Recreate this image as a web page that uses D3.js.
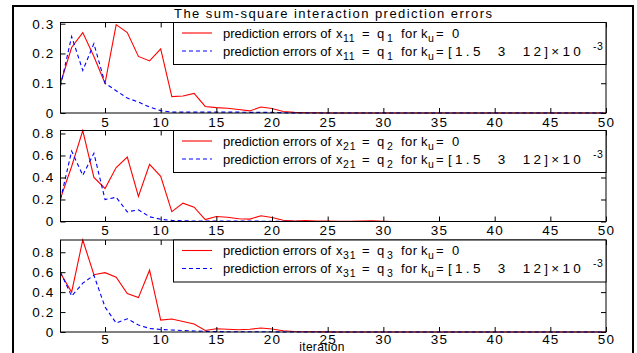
<!DOCTYPE html>
<html><head><meta charset="utf-8">
<script src="https://cdn.jsdelivr.net/npm/d3@7"></script>
<style>
body{margin:0;background:#fff}
svg{display:block}
text{font-family:"Liberation Sans",Arial,Helvetica,sans-serif;fill:#000}
</style>
</head><body>
<svg id="c" width="637" height="353"></svg>
<script>
// ---------- data ----------
const iterations = d3.range(1, 51);
const xTicks = [5, 10, 15, 20, 25, 30, 35, 40, 45, 50];
const yTicksP1 = [0, 0.1, 0.2, 0.3];
const yTicksP23 = [0, 0.2, 0.4, 0.6, 0.8];
const yLimits = [0.304, 0.827, 0.923];

const redP1 = [0.10,0.22,0.27,0.19,0.10,0.297,0.27,0.19,0.175,0.215,0.055,0.057,0.066,0.022,0.018,0.016,0.012,0.007,0.020,0.015,0.005,0.002,0.001,0.001,0,0,0,0,0,0,0,0,0,0,0,0,0,0,0,0,0,0,0,0,0,0,0,0,0,0];
const blueP1 = [0.09,0.257,0.143,0.233,0.10,0.075,0.05,0.037,0.02,0.008,0.003,0.003,0.003,0.003,0.003,0.003,0.003,0.002,0.002,0.002,0.001,0,0,0,0,0,0,0,0,0,0,0,0,0,0,0,0,0,0,0,0,0,0,0,0,0,0,0,0,0];
const redP2 = [0.21,0.50,0.827,0.40,0.30,0.49,0.585,0.227,0.52,0.41,0.09,0.167,0.13,0.018,0.045,0.038,0.025,0.022,0.052,0.037,0.012,0.005,0.008,0.005,0.003,0.002,0.002,0.004,0.006,0.002,0,0,0,0,0,0,0,0,0,0,0,0,0,0,0,0,0,0,0,0];
const blueP2 = [0.20,0.64,0.42,0.62,0.20,0.22,0.088,0.106,0.043,0.02,0.01,0.006,0.005,0.005,0.004,0.004,0.003,0.003,0.003,0.002,0.002,0.001,0,0,0,0,0,0,0,0,0,0,0,0,0,0,0,0,0,0,0,0,0,0,0,0,0,0,0,0];
const redP3 = [0.59,0.40,0.923,0.575,0.595,0.55,0.385,0.345,0.62,0.12,0.13,0.106,0.08,0.015,0.033,0.027,0.023,0.027,0.04,0.03,0.013,0.005,0.003,0.002,0.001,0,0,0,0,0,0,0,0,0,0,0,0,0,0,0,0,0,0,0,0,0,0,0,0,0];
const blueP3 = [0.60,0.36,0.49,0.57,0.25,0.09,0.133,0.07,0.036,0.025,0.02,0.015,0.01,0.006,0.004,0.003,0.003,0.002,0.002,0.002,0.001,0,0,0,0,0,0,0,0,0,0,0,0,0,0,0,0,0,0,0,0,0,0,0,0,0,0,0,0,0];

const xSubs = ["11", "21", "31"];
const qSubs = ["1", "2", "3"];
const legendLead = "prediction errors of";
const gainZero = "0";
const gainVec = "[1.5 3 12]\u00d710";
const gainExp = "-3";
const titleText = "The sum-square interaction prediction errors";
const xLabel = "iteration";

// ---------- layout ----------
const svg = d3.select("#c");
const X0 = 60.5, X1 = 606;
const panels = [
  {top: 22.5, bottom: 113, red: redP1, blue: blueP1, ticks: yTicksP1, ymax: yLimits[0]},
  {top: 130.5, bottom: 221.5, red: redP2, blue: blueP2, ticks: yTicksP23, ymax: yLimits[1]},
  {top: 240, bottom: 332, red: redP3, blue: blueP3, ticks: yTicksP23, ymax: yLimits[2]}
];
const fmt = d3.format(".1~f");

svg.append("rect").attr("x", 13).attr("y", 6).attr("width", 620).attr("height", 360)
  .attr("fill", "none").attr("stroke", "#000").attr("stroke-width", 2);

const x = d3.scaleLinear().domain([1, 50]).range([X0, X1]);

function txt(parent, s, px, py, size, opts = {}) {
  const t = parent.append("text").attr("x", px).attr("y", py).attr("font-size", size).text(s);
  if (opts.ls) t.attr("letter-spacing", opts.ls);
  if (opts.ws) t.attr("word-spacing", opts.ws);
  if (opts.len) t.attr("textLength", opts.len).attr("lengthAdjust", "spacing");
  return t;
}

panels.forEach((p, i) => {
  const y = d3.scaleLinear().domain([0, p.ymax]).range([p.bottom, p.top]);
  const g = svg.append("g");
  const line = d3.line().x((d, k) => x(iterations[k])).y(d => y(d));

  g.append("path").datum(p.red).attr("d", line).attr("fill", "none")
    .attr("stroke", "#ff0000").attr("stroke-width", 1.1);
  g.append("path").datum(p.blue).attr("d", line).attr("fill", "none")
    .attr("stroke", "#0000ff").attr("stroke-width", 1.1).attr("stroke-dasharray", "4,3");

  g.append("rect").attr("x", X0).attr("y", p.top).attr("width", X1 - X0).attr("height", p.bottom - p.top)
    .attr("fill", "none").attr("stroke", "#000").attr("stroke-width", 1);

  const ax = g.append("g").attr("transform", `translate(0,${p.bottom})`)
    .call(d3.axisBottom(x).tickValues(xTicks).tickSize(-5).tickFormat(d3.format("d")));
  const at = g.append("g").attr("transform", `translate(0,${p.top})`)
    .call(d3.axisTop(x).tickValues(xTicks).tickSize(-5).tickFormat(""));
  const al = g.append("g").attr("transform", `translate(${X0},0)`)
    .call(d3.axisLeft(y).tickValues(p.ticks).tickSize(-5).tickPadding(6).tickFormat(fmt));
  const ar = g.append("g").attr("transform", `translate(${X1},0)`)
    .call(d3.axisRight(y).tickValues(p.ticks).tickSize(-5).tickFormat(""));
  [ax, at, al, ar].forEach(a => {
    a.select(".domain").remove();
    a.selectAll("line").attr("stroke", "#000");
    a.selectAll("text").attr("font-size", 13.5).attr("font-family", '"Liberation Sans",Arial,sans-serif')
      .attr("letter-spacing", 1.2).attr("fill", "#000");
  });
  ax.selectAll("text").attr("dy", null).attr("y", i === 2 ? 12 : 13.5);

  // legend
  const lx0 = 173.5, ly0 = p.top, lw = X1 - 173.5, lh = 42;
  const lg = g.append("g");
  lg.append("rect").attr("x", lx0).attr("y", ly0).attr("width", lw).attr("height", lh)
    .attr("fill", "#fff").attr("stroke", "#000").attr("stroke-width", 1);
  [0, 1].forEach(r => {
    const yy = ly0 + (r === 0 ? 10.5 : 28.5);
    const b = yy + 4.5;
    lg.append("line").attr("x1", 182).attr("x2", 212).attr("y1", yy).attr("y2", yy)
      .attr("stroke", r === 0 ? "#ff0000" : "#0000ff").attr("stroke-width", 1.1)
      .attr("stroke-dasharray", r === 0 ? null : "4,3");
    txt(lg, legendLead, 223, b, 13, {len: 108});
    txt(lg, "x", 336, b, 13);
    txt(lg, xSubs[i], 343, b + 4, 10.5, {ls: 0.8});
    txt(lg, "=", 362, b, 13);
    txt(lg, "q", 377, b, 13);
    txt(lg, qSubs[i], 387, b + 4, 10.5);
    txt(lg, "for", 401, b, 13, {ls: 0.4});
    txt(lg, "k", 421, b, 13);
    txt(lg, "u", 428, b + 4, 10.5);
    txt(lg, "=", 436, b, 13);
    if (r === 0) {
      txt(lg, gainZero, 452, b, 13);
    } else {
      txt(lg, gainVec, 448, b, 13.5, {ls: 3.3, ws: 7});
      txt(lg, gainExp, 593, b - 6, 10.5, {ls: 0.5});
    }
  });
});

svg.append("text").attr("x", 333).attr("y", 18).attr("text-anchor", "middle")
  .attr("font-size", 13).attr("textLength", 318).text(titleText);
svg.append("text").attr("x", 322).attr("y", 351).attr("text-anchor", "middle")
  .attr("font-size", 12).attr("letter-spacing", 0.3).text(xLabel);
</script>
</body></html>
